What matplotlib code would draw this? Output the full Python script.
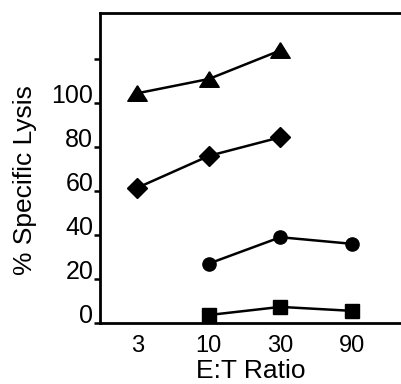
import matplotlib
matplotlib.use("Agg")
import matplotlib.pyplot as plt

plt.rcParams["font.family"] = ["Liberation Sans", "DejaVu Sans"]

# E:T ratio categories and % specific lysis per series
RATIOS = ["3", "10", "30", "90"]
TRIANGLE = [104.5, 111, 124, None]
DIAMOND = [61.5, 76, 84.5, None]
CIRCLE = [None, 27, 39, 36]
SQUARE = [None, 3.6, 7.3, 5.5]

fig = plt.figure(figsize=(4.02, 3.84), dpi=100)
ax = fig.add_axes([0.249, 0.159, 0.751, 0.807])

# flattened triangle like the original print
tri = [(0, 0.8), (-1, -0.8), (1, -0.8), (0, 0.8)]
series = [(TRIANGLE, tri, 14), (DIAMOND, "D", 10.5), (CIRCLE, "o", 9.5), (SQUARE, "s", 9.5)]
for vals, mk, ms in series:
    xs = [i for i, v in enumerate(vals) if v is not None]
    ys = [v for v in vals if v is not None]
    ax.plot(xs, ys, color="black", marker=mk, markersize=ms, linewidth=1.8)

ax.set_xlim(-0.52, 3.7)
ax.set_ylim(0, 141)
ax.set_xticks(range(len(RATIOS)))
ax.set_xticklabels(RATIOS, fontsize=17)
ax.set_yticks([0, 20, 40, 60, 80, 100, 120])
ax.set_yticklabels(["0", "20", "40", "60", "80", "100", ""], fontsize=18)
for lab in ax.get_yticklabels():
    lab.set_verticalalignment("baseline")
ax.tick_params(axis="y", direction="out", length=4, width=1.8, pad=1)
ax.tick_params(axis="x", length=0, pad=9)

ax.spines["right"].set_visible(False)
for s in ["left", "top", "bottom"]:
    ax.spines[s].set_linewidth(2)

ax.set_xlabel("E:T Ratio", fontsize=19, labelpad=1)
ax.set_ylabel("% Specific Lysis", fontsize=19)
ax.yaxis.set_label_coords(-0.209, 0.461)

fig.savefig("out.png", dpi=100)
